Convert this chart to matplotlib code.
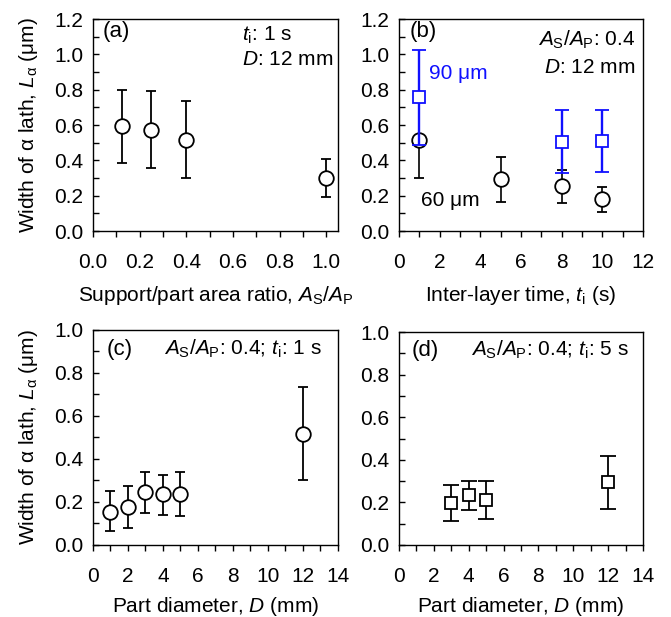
import numpy as np
import matplotlib
matplotlib.use("Agg")
from matplotlib import pyplot as plt
from matplotlib.ticker import MultipleLocator, FormatStrFormatter

plt.rcParams['font.family'] = ['Liberation Sans', 'DejaVu Sans']
plt.rcParams['font.size'] = 15
plt.rcParams['mathtext.fontset'] = 'custom'
plt.rcParams['mathtext.rm'] = 'Liberation Sans'
plt.rcParams['mathtext.it'] = 'Liberation Sans:italic'
plt.rcParams['mathtext.bf'] = 'Liberation Sans:bold'
plt.rcParams['axes.linewidth'] = 1.0

# (a) support/part area ratio
ratio = np.array([0.125, 0.25, 0.4, 1.0])
ratio_L = np.array([0.595, 0.572, 0.515, 0.302])
ratio_hi = np.array([0.80, 0.79, 0.735, 0.41])
ratio_lo = np.array([0.385, 0.357, 0.30, 0.195])

# (b) inter-layer time, 60 um and 90 um layers
time60 = np.array([1, 5, 8, 10])
time60_L = np.array([0.515, 0.292, 0.255, 0.181])
time60_hi = np.array([0.735, 0.421, 0.345, 0.251])
time60_lo = np.array([0.30, 0.166, 0.157, 0.109])
time90 = np.array([1, 8, 10])
time90_L = np.array([0.757, 0.506, 0.509])
time90_hi = np.array([1.025, 0.685, 0.685])
time90_lo = np.array([0.487, 0.326, 0.332])

# (c) part diameter, t_i = 1 s
diam1 = np.array([1, 2, 3, 4, 5, 12])
diam1_L = np.array([0.155, 0.175, 0.245, 0.235, 0.237, 0.515])
diam1_hi = np.array([0.252, 0.275, 0.338, 0.327, 0.340, 0.735])
diam1_lo = np.array([0.065, 0.078, 0.150, 0.140, 0.135, 0.30])

# (d) part diameter, t_i = 5 s
diam5 = np.array([3, 4, 5, 12])
diam5_L = np.array([0.198, 0.235, 0.210, 0.295])
diam5_hi = np.array([0.282, 0.302, 0.300, 0.420])
diam5_lo = np.array([0.115, 0.165, 0.120, 0.170])

ylab = 'Width of α lath, $L_\\mathrm{α}$ (μm)'
asap = '$A_\\mathrm{S}$/$A_\\mathrm{P}$'
blue = '#1010ff'

fig = plt.figure(figsize=(6.71, 6.17), dpi=100)
ax_a = fig.add_axes([0.1386, 0.6256, 0.365, 0.3436])
ax_b = fig.add_axes([0.5946, 0.6256, 0.3636, 0.3436])
ax_c = fig.add_axes([0.1386, 0.1167, 0.365, 0.3485])
ax_d = fig.add_axes([0.5946, 0.1167, 0.3636, 0.3452])


def eb(ax, x, y, lo, hi, marker, color='k', ms=10.5, cap=3.6, lw=1.3, z=3):
    ax.errorbar(x, y, yerr=[y - lo, hi - y], fmt=marker, ms=ms,
                mfc='white', mec=color, mew=1.3, ecolor=color,
                elinewidth=lw, capsize=cap, capthick=lw, zorder=z)


def style(ax, xmax, xmaj, xmin, ymax):
    ax.set_xlim(0, xmax)
    ax.set_ylim(0, ymax)
    ax.xaxis.set_major_locator(MultipleLocator(xmaj))
    ax.xaxis.set_minor_locator(MultipleLocator(xmin))
    ax.yaxis.set_major_locator(MultipleLocator(0.2))
    ax.yaxis.set_minor_locator(MultipleLocator(0.1))
    ax.yaxis.set_major_formatter(FormatStrFormatter('%.1f'))
    ax.tick_params(axis='x', which='both', direction='out', length=4.5,
                   width=1.0, pad=11, labelsize=15)
    ax.tick_params(axis='y', which='both', direction='in', length=4.5,
                   width=1.0, pad=7, labelsize=15)


# (a)
eb(ax_a, ratio, ratio_L, ratio_lo, ratio_hi, 'o')
style(ax_a, 1.05, 0.2, 0.1, 1.2)
ax_a.set_xticks(np.arange(0, 1.01, 0.2))
ax_a.xaxis.set_major_formatter(FormatStrFormatter('%.1f'))
ax_a.set_xlabel('Support/part area ratio, ' + asap, labelpad=9)
ax_a.set_ylabel(ylab, labelpad=10)
ax_a.text(0.04, 0.94, '(a)', transform=ax_a.transAxes, fontsize=16, va='center')
ax_a.text(0.61, 0.925, '$t_\\mathrm{i}$: 1 s', transform=ax_a.transAxes, va='center')
ax_a.text(0.61, 0.807, '$D$: 12 mm', transform=ax_a.transAxes, va='center')

# (b)
eb(ax_b, time60, time60_L, time60_lo, time60_hi, 'o', lw=1.2, cap=3.6, z=3)
eb(ax_b, time90, time90_L, time90_lo, time90_hi, 's', color=blue,
   ms=8, cap=5, lw=1.7, z=4)
style(ax_b, 12, 2, 1, 1.2)
ax_b.set_xlabel('Inter-layer time, $t_\\mathrm{i}$ (s)', labelpad=9)
ax_b.text(0.045, 0.94, '(b)', transform=ax_b.transAxes, fontsize=16, va='center')
ax_b.text(0.967, 0.90, asap + ': 0.4', transform=ax_b.transAxes, va='center', ha='right')
ax_b.text(0.967, 0.77, '$D$: 12 mm', transform=ax_b.transAxes, va='center', ha='right')
ax_b.text(1.48, 0.889, '90 μm', color=blue, va='center')
ax_b.text(1.07, 0.17, '60 μm', color='k', va='center')

# (c)
eb(ax_c, diam1, diam1_L, diam1_lo, diam1_hi, 'o')
style(ax_c, 14, 2, 1, 1.0)
ax_c.set_xlabel('Part diameter, $D$ (mm)', labelpad=7)
ax_c.set_ylabel(ylab, labelpad=10)
ax_c.text(0.057, 0.91, '(c)', transform=ax_c.transAxes, fontsize=16, va='center')
ax_c.text(0.935, 0.91, asap + ': 0.4; $t_\\mathrm{i}$: 1 s', transform=ax_c.transAxes,
          va='center', ha='right')

# (d)
eb(ax_d, diam5, diam5_L, diam5_lo, diam5_hi, 's', ms=8.5, cap=5.5)
style(ax_d, 14, 2, 1, 1.0)
ax_d.set_xlabel('Part diameter, $D$ (mm)', labelpad=7)
ax_d.text(0.05, 0.915, '(d)', transform=ax_d.transAxes, fontsize=16, va='center')
ax_d.text(0.94, 0.915, asap + ': 0.4; $t_\\mathrm{i}$: 5 s', transform=ax_d.transAxes,
          va='center', ha='right')

fig.savefig('out.png', dpi=100)
